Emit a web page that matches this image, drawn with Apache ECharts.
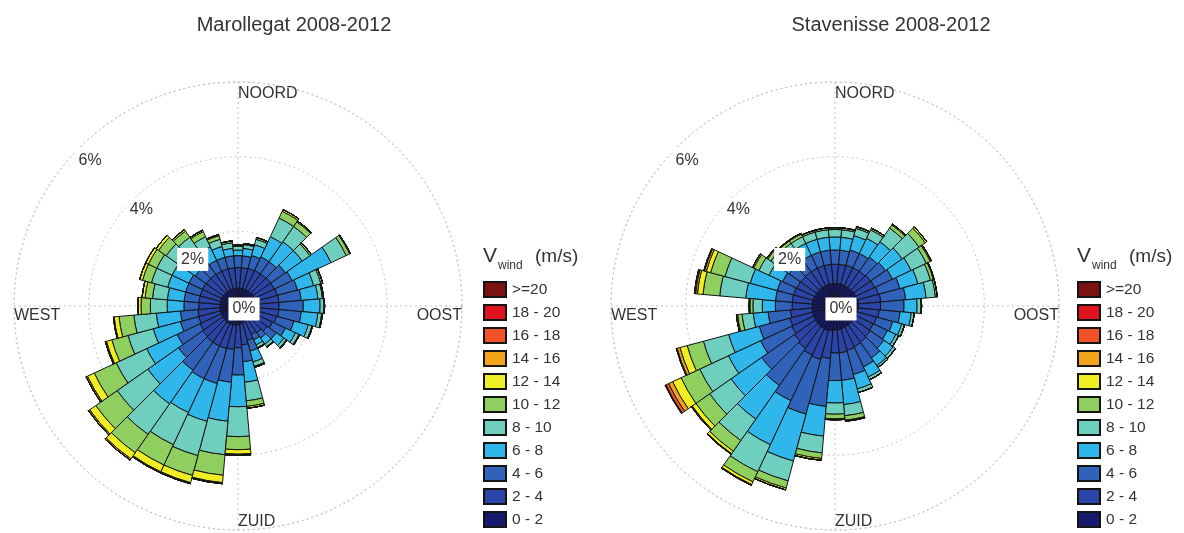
<!DOCTYPE html>
<html>
<head>
<meta charset="utf-8">
<script src="https://cdn.jsdelivr.net/npm/echarts@6/dist/echarts.min.js"></script>
<style>
  html, body { margin: 0; padding: 0; background: #fff; }
  #chart { width: 1184px; height: 533px; }
</style>
</head>
<body>
<div id="chart"></div>
<script>
// Wind direction sectors (degrees, clockwise from north)
const directions = ['0','10','20','30','40','50','60','70','80','90','100','110','120','130','140','150','160','170',
                    '180','190','200','210','220','230','240','250','260','270','280','290','300','310','320','330','340','350'];

// Wind speed classes (m/s)
const speedBins = ['0 - 2','2 - 4','4 - 6','6 - 8','8 - 10','10 - 12','12 - 14','14 - 16','16 - 18','18 - 20','>=20'];
const binColors = ['#161a6e','#2a44a8','#2f62b8','#2fb6ea','#6fcfbf','#8fcf5f','#eeee22','#f2a418','#f2522a','#e0141e','#7a1212'];

// Radial tick labels (frequency, %)
const radialTicks = [0, 2, 4, 6];
const compassLabels = ['NOORD', 'OOST', 'ZUID', 'WEST'];

// Marollegat 2008-2012: frequency (%) per direction for each speed class
const maro_0_2   = [0.48,0.48,0.48,0.48,0.48,0.49,0.49,0.50,0.50,0.50,0.50,0.49,0.47,0.45,0.42,0.42,0.45,0.48,0.50,0.52,0.52,0.52,0.52,0.51,0.50,0.49,0.49,0.48,0.48,0.48,0.48,0.48,0.48,0.48,0.48,0.48];
const maro_2_4   = [0.55,0.55,0.56,0.57,0.57,0.58,0.58,0.59,0.60,0.60,0.60,0.58,0.55,0.50,0.45,0.42,0.50,0.57,0.62,0.65,0.66,0.66,0.66,0.64,0.62,0.60,0.59,0.57,0.57,0.57,0.57,0.56,0.56,0.55,0.55,0.55];
const maro_4_6   = [0.32,0.32,0.36,0.40,0.40,0.48,0.53,0.56,0.60,0.65,0.60,0.48,0.38,0.30,0.18,0.16,0.30,0.45,0.73,0.88,0.97,0.97,0.92,0.80,0.68,0.51,0.47,0.40,0.40,0.40,0.40,0.36,0.36,0.32,0.32,0.32];
const maro_6_8   = [0.15,0.20,0.30,0.60,0.65,0.55,1.15,0.45,0.45,0.45,0.45,0.40,0.30,0.25,0.20,0.15,0.30,0.55,0.85,1.05,1.05,1.00,1.10,1.00,0.90,0.75,0.65,0.45,0.45,0.50,0.50,0.50,0.45,0.40,0.30,0.20];
const maro_8_10  = [0.10,0.10,0.15,0.55,0.50,0.25,0.45,0.20,0.12,0.10,0.10,0.10,0.10,0.08,0.08,0.08,0.12,0.50,0.80,0.90,0.95,0.95,1.00,1.00,0.90,0.70,0.60,0.45,0.40,0.45,0.45,0.45,0.40,0.30,0.20,0.15];
const maro_10_12 = [0.03,0.03,0.05,0.20,0.15,0.05,0.10,0.05,0.03,0.02,0.02,0.02,0.02,0.02,0.02,0.02,0.03,0.15,0.35,0.55,0.55,0.60,0.60,0.70,0.65,0.45,0.40,0.25,0.20,0.25,0.25,0.25,0.20,0.15,0.10,0.05];
const maro_12_14 = [0,0,0,0.05,0.03,0,0.02,0,0,0,0,0,0,0,0,0,0,0.05,0.12,0.20,0.20,0.20,0.20,0.20,0.20,0.15,0.13,0.08,0.08,0.08,0.08,0.08,0.05,0.04,0.03,0];
const maro_14_16 = [0,0,0,0,0,0,0,0,0,0,0,0,0,0,0,0,0,0,0.03,0.03,0.03,0.03,0.04,0.04,0.04,0.03,0.02,0,0,0,0,0,0,0,0,0];
const maro_16_18 = [0,0,0,0,0,0,0,0,0,0,0,0,0,0,0,0,0,0,0,0,0,0,0,0,0,0,0,0,0,0,0,0,0,0,0,0];
const maro_18_20 = [0,0,0,0,0,0,0,0,0,0,0,0,0,0,0,0,0,0,0,0,0,0,0,0,0,0,0,0,0,0,0,0,0,0,0,0];
const maro_20up  = [0,0,0,0,0,0,0,0,0,0,0,0,0,0,0,0,0,0,0,0,0,0,0,0,0,0,0,0,0,0,0,0,0,0,0,0];

// Stavenisse 2008-2012: frequency (%) per direction for each speed class
const stav_0_2   = [0.60,0.60,0.60,0.60,0.60,0.61,0.61,0.62,0.63,0.63,0.62,0.61,0.60,0.61,0.62,0.62,0.63,0.64,0.64,0.66,0.68,0.67,0.66,0.65,0.64,0.63,0.62,0.61,0.61,0.61,0.60,0.60,0.60,0.60,0.60,0.60];
const stav_2_4   = [0.52,0.52,0.53,0.53,0.54,0.55,0.56,0.58,0.60,0.59,0.57,0.54,0.53,0.54,0.56,0.58,0.60,0.62,0.62,0.75,0.80,0.78,0.72,0.68,0.64,0.62,0.58,0.54,0.54,0.54,0.53,0.52,0.52,0.52,0.52,0.52];
const stav_4_6   = [0.38,0.38,0.42,0.42,0.46,0.49,0.53,0.60,0.67,0.63,0.56,0.45,0.42,0.45,0.52,0.60,0.67,0.74,0.74,1.29,1.52,1.35,1.22,1.07,0.92,0.85,0.60,0.45,0.45,0.45,0.42,0.38,0.38,0.38,0.38,0.38];
const stav_6_8   = [0.35,0.35,0.40,0.45,0.50,0.55,0.55,0.50,0.55,0.35,0.30,0.25,0.25,0.30,0.25,0.30,0.40,0.65,0.60,0.80,1.30,1.30,1.10,1.00,0.95,0.85,0.40,0.35,0.80,0.75,0.40,0.35,0.35,0.35,0.35,0.35];
const stav_8_10  = [0.20,0.20,0.20,0.25,0.45,0.55,0.45,0.35,0.25,0.10,0.08,0.08,0.08,0.08,0.06,0.08,0.10,0.30,0.30,0.45,0.55,0.80,0.70,0.70,0.85,0.70,0.30,0.25,0.70,0.70,0.30,0.25,0.20,0.20,0.20,0.20];
const stav_10_12 = [0.05,0.05,0.05,0.05,0.10,0.20,0.12,0.08,0.05,0.02,0,0,0,0,0,0,0,0.12,0.12,0.15,0.20,0.30,0.35,0.45,0.55,0.45,0.12,0.08,0.45,0.40,0.15,0.10,0.08,0.08,0.05,0.05];
const stav_12_14 = [0,0,0,0,0.03,0.05,0.03,0.02,0,0,0,0,0,0,0,0,0,0.03,0.03,0.05,0.05,0.08,0.08,0.12,0.25,0.20,0.03,0.02,0.15,0.12,0.04,0.03,0.02,0.02,0,0];
const stav_14_16 = [0,0,0,0,0,0,0,0,0,0,0,0,0,0,0,0,0,0,0,0,0,0.02,0.02,0.03,0.12,0.08,0,0,0.05,0.05,0,0,0,0,0,0];
const stav_16_18 = [0,0,0,0,0,0,0,0,0,0,0,0,0,0,0,0,0,0,0,0,0,0,0,0,0.08,0.02,0,0,0.03,0.02,0,0,0,0,0,0];
const stav_18_20 = [0,0,0,0,0,0,0,0,0,0,0,0,0,0,0,0,0,0,0,0,0,0,0,0,0.02,0,0,0,0,0,0,0,0,0,0,0];
const stav_20up  = [0,0,0,0,0,0,0,0,0,0,0,0,0,0,0,0,0,0,0,0,0,0,0,0,0,0,0,0,0,0,0,0,0,0,0,0];

const roses = [
  { title: 'Marollegat 2008-2012', cx: 238, titleX: 289, legendX: 483,
    bins: [maro_0_2, maro_2_4, maro_4_6, maro_6_8, maro_8_10, maro_10_12, maro_12_14, maro_14_16, maro_16_18, maro_18_20, maro_20up] },
  { title: 'Stavenisse 2008-2012', cx: 835, titleX: 886, legendX: 1077,
    bins: [stav_0_2, stav_2_4, stav_4_6, stav_6_8, stav_8_10, stav_10_12, stav_12_14, stav_14_16, stav_16_18, stav_18_20, stav_20up] }
];

// Layout
const CY = 306;          // centre row of both roses
const R = 224;           // radius of the outer (6 %) circle
const LABEL_DX = 6, LABEL_DY = 3, LABEL_R = 214;
const FONT = '"Liberation Sans", Arial, Helvetica, sans-serif';
const TEXT = '#333';

const polar = [], angleAxis = [], radiusAxis = [], series = [], title = [], legend = [], graphic = [];
const gridLine = { color: '#c4c4c4', width: 1, type: [2, 3] };

roses.forEach((rose, k) => {
  const base = k * 3;
  // grid: circles every 2 % and the N-S / E-W cross
  polar.push({ center: [rose.cx, CY], radius: R });
  angleAxis.push({ polarIndex: base, type: 'value', min: 0, max: 360, interval: 90, startAngle: 90, clockwise: true,
    axisLine: { show: true, lineStyle: gridLine }, axisTick: { show: false }, axisLabel: { show: false },
    splitLine: { show: true, lineStyle: gridLine } });
  radiusAxis.push({ polarIndex: base, min: 0, max: radialTicks[radialTicks.length - 1], interval: 2,
    axisLine: { show: false }, axisTick: { show: false }, axisLabel: { show: false },
    splitLine: { show: true, lineStyle: gridLine } });

  // bars: 36 sectors, each centred on its direction
  polar.push({ center: [rose.cx, CY], radius: R });
  angleAxis.push({ polarIndex: base + 1, type: 'category', data: directions, startAngle: 95, clockwise: true, boundaryGap: true,
    axisLine: { show: false }, axisTick: { show: false }, axisLabel: { show: false }, splitLine: { show: false } });
  radiusAxis.push({ polarIndex: base + 1, min: 0, max: radialTicks[radialTicks.length - 1],
    axisLine: { show: false }, axisTick: { show: false }, axisLabel: { show: false }, splitLine: { show: false } });

  // percentage labels along the north-west diagonal
  polar.push({ center: [rose.cx + LABEL_DX, CY + LABEL_DY], radius: LABEL_R });
  angleAxis.push({ polarIndex: base + 2, type: 'value', min: 0, max: 360, startAngle: 136, show: false });
  radiusAxis.push({ polarIndex: base + 2, min: 0, max: radialTicks[radialTicks.length - 1], interval: 2, z: 10,
    axisLine: { show: false }, axisTick: { show: false }, splitLine: { show: false },
    axisLabel: { show: true, margin: 0, align: 'center', verticalAlign: 'middle', formatter: '{value}%',
      color: TEXT, fontFamily: FONT, fontSize: 16, backgroundColor: '#fff', padding: [4, 4, 3, 4] } });

  rose.bins.forEach((vals, i) => {
    series.push({
      name: speedBins[i], type: 'bar', coordinateSystem: 'polar', polarIndex: base + 1,
      stack: 'rose' + k, data: vals, barCategoryGap: '0%', z: 3,
      itemStyle: { color: binColors[i], borderColor: '#141414', borderWidth: 1 },
      emphasis: { disabled: true }, silent: true, animation: false
    });
  });

  title.push({ text: rose.title, left: rose.titleX, top: 10, textAlign: 'center',
    textStyle: { fontFamily: FONT, fontSize: 20, fontWeight: 'normal', color: TEXT } });

  legend.push({ data: speedBins.slice().reverse(), orient: 'vertical', left: rose.legendX, top: 281, height: 252,
    itemWidth: 22, itemHeight: 15, itemGap: 6, icon: 'rect', selectedMode: false, padding: 0,
    textStyle: { fontFamily: FONT, fontSize: 15.5, color: TEXT, padding: [0, 0, 0, 1] } });

  // compass labels just inside the outer circle
  const ts = { fontFamily: FONT, fontSize: 16, fill: TEXT };
  graphic.push(
    { type: 'text', left: rose.cx, top: CY - R + 4, style: Object.assign({ text: compassLabels[0] }, ts) },
    { type: 'text', right: 1184 - (rose.cx + R), top: CY + 2, style: Object.assign({ text: compassLabels[1] }, ts) },
    { type: 'text', left: rose.cx, top: CY + R - 16, style: Object.assign({ text: compassLabels[2] }, ts) },
    { type: 'text', left: rose.cx - R, top: CY + 2, style: Object.assign({ text: compassLabels[3] }, ts) },
    // legend heading: V with subscript "wind", then the unit
    { type: 'text', left: rose.legendX, top: 246, style: { text: 'V', fontFamily: FONT, fontSize: 21, fill: TEXT } },
    { type: 'text', left: rose.legendX + 15, top: 260, style: { text: 'wind', fontFamily: FONT, fontSize: 12, fill: TEXT } },
    { type: 'text', left: rose.legendX + 52, top: 247, style: { text: '(m/s)', fontFamily: FONT, fontSize: 19, fill: TEXT } }
  );
});

const chart = echarts.init(document.getElementById('chart'), null, { renderer: 'canvas' });
chart.setOption({
  backgroundColor: '#fff',
  animation: false,
  title, legend, polar, angleAxis, radiusAxis, series, graphic
});
</script>
</body>
</html>
